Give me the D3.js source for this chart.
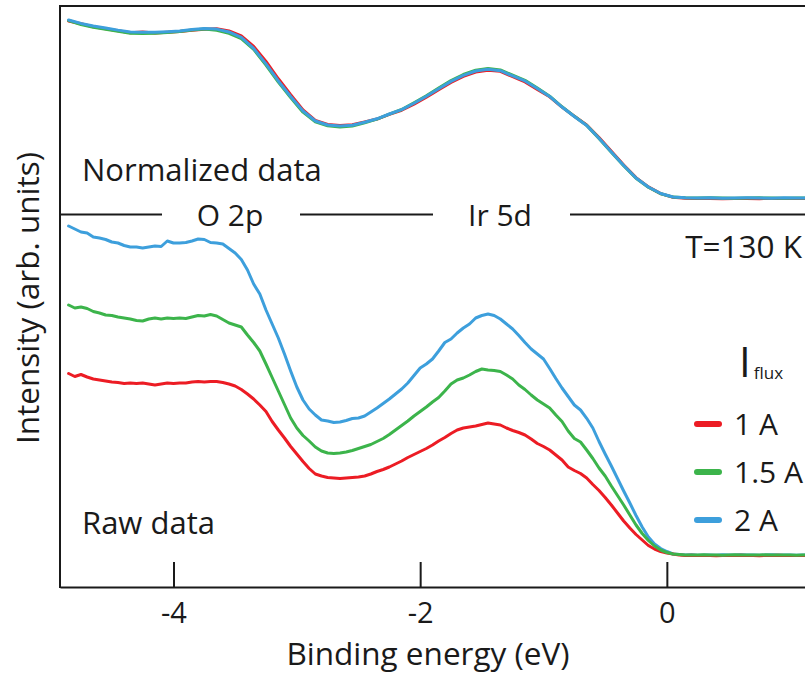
<!DOCTYPE html>
<html>
<head>
<meta charset="utf-8">
<script src="https://cdn.jsdelivr.net/npm/d3@7"></script>
<style>
  body { margin: 0; background: #fff; }
  svg text { font-family: "Open Sans", sans-serif; fill: #1a1a1a; }
</style>
</head>
<body>
<svg id="chart" width="805" height="675"></svg>
<script>
// sampling grids in eV (raw spectra every 0.05 eV, normalized ones every 0.1 eV)
const rawStart = -4.85, rawStep = 0.05;
const normStart = -4.85, normStep = 0.1;

const fluxLabels = ["1 A", "1.5 A", "2 A"];
const colors = ["#ec1c24", "#3cb44b", "#3d9fdc"];
const xTicks = [-4, -2, 0];

// raw intensity (arb. units)
const raw1A = [213.5, 210.5, 212.5, 210, 208, 207, 206, 205, 204.5, 203.5, 204, 203.5, 204, 203, 202, 203, 204, 203.5, 204, 204,
  205, 205.5, 205, 205.5, 205.5, 204.5, 203, 201, 197.5, 193, 188, 182, 175.5, 165.5, 157, 149, 140.5, 133, 125.5, 118.5,
  113, 111, 109.5, 109, 108.5, 109, 109.5, 110, 111, 113, 115.5, 117.5, 120, 123, 126, 129.5, 132.5, 135.5, 138.5, 142,
  146, 149.5, 153.5, 157, 159, 160, 161, 162.5, 164, 163, 162, 159, 156.5, 154.5, 152, 148, 143.5, 140.5, 137, 132,
  127, 120, 116.5, 113.5, 109, 102.5, 96.5, 89.5, 82, 74, 66, 59, 52.5, 47, 41.5, 38, 35.5, 34, 33, 32,
  31.5, 31.8, 31.4, 31.6, 31.5, 31.3, 31.6, 31.4, 31.5, 31.7, 31.4, 31.5, 31.3, 31.6, 31.5, 31.7, 31.4, 31.5, 31.6, 31.5, 31.6];
const raw15A = [282, 279, 280, 278.5, 275.5, 274, 272, 271.5, 270, 269, 268, 266.5, 266, 268, 269, 268, 269, 268.5, 269, 268.5,
  270, 271.5, 271, 272.5, 271, 267.5, 264, 262, 260, 252, 244.5, 236, 223, 209.5, 196, 182.5, 169, 159, 151.5, 146,
  140, 136, 134, 133.5, 134, 135, 136.5, 138.5, 140.5, 142.5, 145.5, 148.5, 152.5, 157, 161.5, 166, 171, 175.5, 180, 185,
  189.5, 196, 203, 207, 209, 212, 215.5, 218, 217, 216.5, 215.5, 212, 208, 202, 197.5, 192, 187, 183, 179, 172,
  165.5, 156, 148.5, 145, 137, 128.5, 119, 111, 101, 91.5, 82, 72, 62, 53.5, 46.5, 41, 37, 34.5, 33, 32.5,
  32.1, 32, 31.9, 32.2, 32, 32.1, 31.8, 32, 32.2, 32, 31.9, 32.1, 32, 32.2, 31.9, 32, 32.1, 32, 31.8, 32, 32.1];
const raw2A = [361, 358, 355, 354, 350, 349, 347.5, 345, 344, 341.5, 340, 340, 339, 340, 341, 340.5, 346, 344, 344, 344.5,
  346, 348, 347.5, 344.5, 344, 343, 338.5, 334, 327.5, 317, 303, 293, 277, 263, 249, 233, 216, 200, 187, 178,
  172, 167, 166, 164.5, 165, 166.5, 168.5, 169, 171, 175, 179, 183.5, 188, 193, 198, 204, 211.5, 219, 223, 228,
  236, 244.5, 248, 254, 259, 263, 269, 271.5, 273, 271.5, 268, 263, 258, 251.5, 244.5, 238, 233, 228, 218.5, 208.5,
  199, 190.5, 182, 177, 168.7, 159, 145.5, 133, 121, 108.5, 96, 84, 71.5, 60, 50, 43, 38.5, 35.5, 33, 32.5,
  32, 32.3, 31.8, 32.1, 32, 31.7, 32.2, 32, 31.9, 32.3, 32, 32.1, 31.8, 32, 32.2, 31.9, 32, 32.1, 31.8, 32, 32];

// normalized intensity
const norm1A = [1.372, 1.350, 1.327, 1.312, 1.296, 1.281, 1.286, 1.279, 1.284, 1.290, 1.300, 1.308, 1.311, 1.295, 1.256, 1.175, 1.058, 0.924, 0.800, 0.683,
  0.602, 0.570, 0.561, 0.568, 0.590, 0.612, 0.648, 0.680, 0.728, 0.781, 0.840, 0.896, 0.942, 0.976, 0.990, 0.982, 0.940, 0.900, 0.842, 0.784,
  0.704, 0.634, 0.566, 0.468, 0.362, 0.256, 0.158, 0.086, 0.034, 0.006, -0.002, -0.004, -0.003, -0.005, -0.004, -0.003, -0.005, -0.004, -0.003, -0.004, -0.004];
const norm15A = [1.376, 1.345, 1.323, 1.308, 1.292, 1.276, 1.274, 1.277, 1.282, 1.290, 1.302, 1.310, 1.300, 1.276, 1.236, 1.152, 1.030, 0.898, 0.778, 0.665,
  0.590, 0.560, 0.551, 0.558, 0.583, 0.611, 0.650, 0.686, 0.738, 0.792, 0.852, 0.910, 0.957, 0.990, 1.004, 0.993, 0.952, 0.912, 0.852, 0.789,
  0.707, 0.633, 0.563, 0.462, 0.355, 0.250, 0.153, 0.083, 0.033, 0.007, 0.001, 0.000, 0.001, 0.000, -0.001, 0.000, 0.001, 0.000, -0.001, 0.000, 0.001];
const norm2A = [1.380, 1.353, 1.333, 1.318, 1.301, 1.287, 1.284, 1.285, 1.289, 1.295, 1.306, 1.314, 1.309, 1.287, 1.244, 1.159, 1.039, 0.907, 0.787, 0.674,
  0.597, 0.566, 0.558, 0.564, 0.587, 0.614, 0.651, 0.685, 0.734, 0.789, 0.847, 0.904, 0.950, 0.984, 0.998, 0.987, 0.946, 0.907, 0.848, 0.787,
  0.705, 0.632, 0.562, 0.463, 0.357, 0.252, 0.155, 0.085, 0.035, 0.008, 0.002, 0.000, 0.001, -0.001, 0.000, 0.001, 0.000, -0.001, 0.001, 0.000, 0.000];

const svg = d3.select("#chart");
const plotLeft = 60, plotRight = 805, plotTop = 6, plotMid = 214, plotBottom = 587;

const x = d3.scaleLinear().domain([-4.92, 1.12]).range([plotLeft, plotRight]);
const yRaw = d3.scaleLinear().domain([0, 373]).range([plotBottom, plotMid]);
const yNorm = d3.scaleLinear().domain([-0.124, 1.488]).range([plotMid, plotTop]);

svg.append("rect").attr("width", 805).attr("height", 675).attr("fill", "#fff");

const clip = svg.append("defs").append("clipPath").attr("id", "plot");
clip.append("rect").attr("x", plotLeft + 1).attr("y", plotTop).attr("width", plotRight - plotLeft).attr("height", plotBottom - plotTop);

function toPoints(vals, start, step) {
  return vals.map((v, i) => [start + i * step, v]);
}

const lineRaw = d3.line().x(d => x(d[0])).y(d => yRaw(d[1]));
const lineNorm = d3.line().x(d => x(d[0])).y(d => yNorm(d[1]));

const plot = svg.append("g").attr("clip-path", "url(#plot)")
  .attr("fill", "none")
  .attr("stroke-width", 3)
  .attr("stroke-linejoin", "round")
  .attr("stroke-linecap", "round");

// normalized: blue drawn last
[[norm1A, 0], [norm15A, 1], [norm2A, 2]].forEach(([vals, k]) => {
  plot.append("path")
    .attr("d", lineNorm(toPoints(vals, normStart, normStep)))
    .attr("stroke", colors[k]);
});

// raw: green ends on top
[[raw2A, 2], [raw1A, 0], [raw15A, 1]].forEach(([vals, k]) => {
  plot.append("path")
    .attr("d", lineRaw(toPoints(vals, rawStart, rawStep)))
    .attr("stroke", colors[k]);
});

// frame
const frame = svg.append("g").attr("stroke", "#1a1a1a").attr("stroke-width", 2);
frame.append("line").attr("x1", plotLeft).attr("x2", plotLeft).attr("y1", plotTop - 1).attr("y2", plotBottom + 1);
frame.append("line").attr("x1", plotLeft).attr("x2", plotRight).attr("y1", plotTop).attr("y2", plotTop);

// bottom axis with inward ticks
const xAxis = svg.append("g")
  .attr("transform", `translate(0,${plotBottom})`)
  .call(d3.axisBottom(x).tickValues(xTicks).tickSizeInner(-25).tickSizeOuter(0).tickFormat(d => String(d)));
xAxis.select(".domain").attr("stroke", "#1a1a1a").attr("stroke-width", 2);
xAxis.selectAll(".tick line").attr("stroke", "#1a1a1a").attr("stroke-width", 2);
xAxis.selectAll(".tick text")
  .attr("y", 36).attr("dy", 0)
  .attr("fill", "#1a1a1a")
  .style("font-family", "'Open Sans', sans-serif")
  .style("font-size", "29px");

// divider between panels, broken by the band labels
const segs = [[plotLeft, 162], [300, 433], [570, plotRight]];
segs.forEach(s => {
  frame.append("line").attr("x1", s[0]).attr("x2", s[1]).attr("y1", plotMid + 0.5).attr("y2", plotMid + 0.5);
});

function label(txt, px, py, size, anchor) {
  return svg.append("text").text(txt)
    .attr("x", px).attr("y", py)
    .attr("text-anchor", anchor || "start")
    .style("font-size", size + "px");
}

label("O 2p", 230, 226, 30, "middle");
label("Ir 5d", 500, 226, 30, "middle");
label("Normalized data", 82, 181, 31);
label("Raw data", 82, 534, 31);
label("T=130 K", 802, 258, 31.5, "end");
label("Binding energy (eV)", 428, 665, 31.5, "middle");

svg.append("text")
  .text("Intensity (arb. units)")
  .attr("transform", "translate(39,298) rotate(-90)")
  .attr("text-anchor", "middle")
  .style("font-size", "31.5px");

// legend
const iflux = svg.append("text").attr("x", 739).attr("y", 377).style("font-size", "42px");
iflux.append("tspan").text("I");
iflux.append("tspan").text("flux").attr("dy", 2).attr("dx", 3).style("font-size", "17px");

const legend = svg.append("g");
fluxLabels.forEach((name, i) => {
  const g = legend.append("g").attr("transform", `translate(0,${424 + i * 48})`);
  g.append("line")
    .attr("x1", 697).attr("x2", 719)
    .attr("stroke", colors[i]).attr("stroke-width", 6).attr("stroke-linecap", "round");
  g.append("text").text(name)
    .attr("x", 734).attr("y", 11)
    .style("font-size", "30px");
});
</script>
</body>
</html>
